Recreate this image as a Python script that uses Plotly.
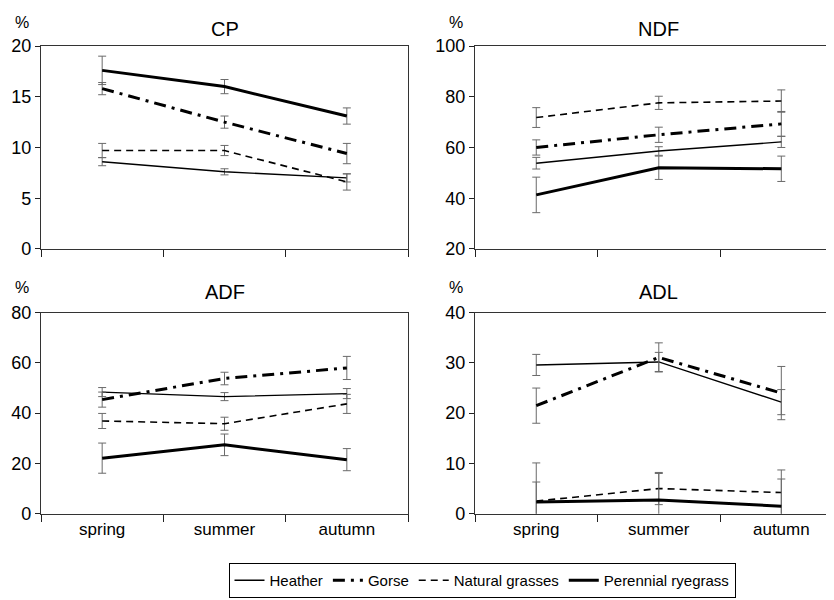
import plotly.graph_objects as go

seasons = ["spring", "summer", "autumn"]
species = ["Heather", "Gorse", "Natural grasses", "Perennial ryegrass"]

# CP (%)
cp_heather = [8.6, 7.6, 7.0]
cp_heather_err = [0.4, 0.3, 0.4]
cp_gorse = [15.8, 12.5, 9.4]
cp_gorse_err = [0.6, 0.6, 1.0]
cp_natural = [9.7, 9.7, 6.6]
cp_natural_err = [0.7, 0.5, 0.8]
cp_ryegrass = [17.6, 16.0, 13.1]
cp_ryegrass_err = [1.4, 0.7, 0.8]

# NDF (%)
ndf_heather = [53.8, 58.6, 62.2]
ndf_heather_err = [2.3, 1.7, 2.2]
ndf_gorse = [60.0, 65.0, 69.3]
ndf_gorse_err = [3.0, 3.0, 4.9]
ndf_natural = [71.8, 77.6, 78.3]
ndf_natural_err = [3.9, 2.6, 4.4]
ndf_ryegrass = [41.3, 52.0, 51.6]
ndf_ryegrass_err = [7.0, 4.6, 5.0]

# ADF (%)
adf_heather = [48.4, 46.6, 47.8]
adf_heather_err = [1.8, 1.6, 2.0]
adf_gorse = [45.4, 53.8, 58.0]
adf_gorse_err = [3.0, 2.5, 4.6]
adf_natural = [36.9, 35.8, 43.7]
adf_natural_err = [3.0, 2.6, 3.8]
adf_ryegrass = [22.1, 27.4, 21.5]
adf_ryegrass_err = [6.0, 4.3, 4.4]

# ADL (%)
adl_heather = [29.6, 30.2, 22.2]
adl_heather_err = [2.1, 1.9, 2.5]
adl_gorse = [21.5, 31.1, 24.0]
adl_gorse_err = [3.5, 2.9, 5.3]
adl_natural = [2.5, 5.0, 4.2]
adl_natural_err = [3.8, 3.2, 4.5]
adl_ryegrass = [2.3, 2.7, 1.5]
adl_ryegrass_err = [7.8, 5.3, 5.4]

panels = [
    ("CP", [cp_heather, cp_gorse, cp_natural, cp_ryegrass],
     [cp_heather_err, cp_gorse_err, cp_natural_err, cp_ryegrass_err], [0, 20], 5),
    ("NDF", [ndf_heather, ndf_gorse, ndf_natural, ndf_ryegrass],
     [ndf_heather_err, ndf_gorse_err, ndf_natural_err, ndf_ryegrass_err], [20, 100], 20),
    ("ADF", [adf_heather, adf_gorse, adf_natural, adf_ryegrass],
     [adf_heather_err, adf_gorse_err, adf_natural_err, adf_ryegrass_err], [0, 80], 20),
    ("ADL", [adl_heather, adl_gorse, adl_natural, adl_ryegrass],
     [adl_heather_err, adl_gorse_err, adl_natural_err, adl_ryegrass_err], [0, 40], 10),
]

styles = [
    dict(width=1.4, dash="solid"),
    dict(width=3.0, dash="12px,6px,3px,6px"),
    dict(width=1.6, dash="7px,5px"),
    dict(width=3.0, dash="solid"),
]

# page body has an 8px margin: figure occupies window pixels 8..834 x 8..600
OFF = 8
W, H = 834 - OFF, 600 - OFF


def px(x):
    return (x - OFF) / W


def py(y):
    return (H - (y - OFF)) / H


# panel boxes in window pixels (left, right, top, bottom)
boxes = [
    (41, 408, 37, 247),
    (475, 834, 37, 247),
    (41, 408, 313, 521),
    (475, 834, 313, 521),
]
title_y = [19, 19, 292, 292]
pct_y = [13, 13, 287, 287]
xranges = [[-0.5, 2.5], [-0.5, 2.43], [-0.5, 2.5], [-0.5, 2.43]]

FONT = "Liberation Sans, Arial, sans-serif"
fig = go.Figure()
layout = dict(
    width=W, height=H,
    margin=dict(l=0, r=0, t=0, b=0),
    paper_bgcolor="white", plot_bgcolor="white",
    font=dict(family=FONT, size=16, color="black"),
    showlegend=True,
    legend=dict(
        orientation="h", x=px(482), xanchor="center", y=py(572), yanchor="top",
        bordercolor="black", borderwidth=1, font=dict(size=15),
        itemwidth=30, tracegroupgap=0,
    ),
)
annotations = []

for i, (title, vals, errs, yr, dt) in enumerate(panels):
    k = "" if i == 0 else str(i + 1)
    l, r, t, b = boxes[i]
    bottom = i >= 2
    layout["xaxis" + k] = dict(
        domain=[px(l), min(px(r), 1.0)], anchor="y" + k, type="category",
        range=xranges[i], categoryorder="array", categoryarray=seasons,
        tickson="boundaries", ticks="outside", ticklen=7, tickwidth=1,
        tickcolor="#222", showline=True, linecolor="#333", linewidth=1.2,
        mirror=True, showgrid=False, zeroline=False,
        showticklabels=bottom, tickfont=dict(size=17), fixedrange=True,
    )
    layout["yaxis" + k] = dict(
        domain=[py(b), py(t)], anchor="x" + k, range=yr, dtick=dt, tick0=0,
        ticks="outside", ticklen=5, tickwidth=1, tickcolor="#222",
        showline=True, linecolor="#333", linewidth=1.2,
        mirror=(i % 2 == 0), showgrid=False, zeroline=False,
        tickfont=dict(size=18), fixedrange=True,
    )
    for j in range(4):
        fig.add_trace(go.Scatter(
            x=seasons, y=vals[j], mode="lines", name=species[j],
            xaxis="x" + k, yaxis="y" + k,
            line=dict(color="black", **styles[j]),
            error_y=dict(type="data", array=errs[j], visible=True,
                         color="#6a6a6a", thickness=1, width=4),
            showlegend=(i == 0),
        ))
    cx = l + 183.5
    annotations.append(dict(
        text=title, x=px(cx), y=py(title_y[i]), xref="paper", yref="paper",
        showarrow=False, font=dict(size=20), xanchor="center", yanchor="middle"))
    annotations.append(dict(
        text="%", x=px(l - 19), y=py(pct_y[i]), xref="paper", yref="paper",
        showarrow=False, font=dict(size=16), xanchor="center", yanchor="middle"))

layout["annotations"] = annotations
fig.update_layout(**layout)
fig.write_html("out.html")
